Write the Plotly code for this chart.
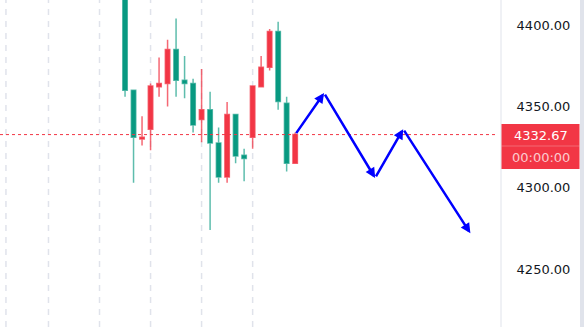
import plotly.graph_objects as go

# ---- data ----
idx = list(range(21))
opens  = [4420, 4360, 4330, 4336, 4362, 4364, 4385, 4366, 4364, 4342, 4348, 4327.5, 4306.6, 4345, 4320, 4331, 4362, 4374, 4396, 4352, 4315]
highs  = [4420, 4360, 4344, 4364, 4380, 4391, 4404, 4381, 4367, 4373, 4359, 4337, 4352.7, 4345, 4324, 4362.5, 4381, 4397.5, 4402, 4356, 4334]
lows   = [4356, 4303, 4326, 4323, 4356, 4350, 4356, 4355, 4334, 4328, 4274, 4303, 4303, 4315, 4304, 4324, 4362, 4372, 4348, 4310, 4315]
closes = [4360, 4331, 4331, 4362.5, 4364, 4385, 4366, 4364, 4338.5, 4348, 4327.5, 4306.6, 4345, 4319.5, 4318, 4362.5, 4374, 4396, 4353, 4315, 4332.67]

grid_x = [-14, -9, -3, 3, 9, 15]
arrow_x = [20, 23.4, 29.4, 32.7, 40.6]
arrow_y = [4332.67, 4358.2, 4306, 4336, 4272]
ytick_vals = [4250, 4300, 4350, 4400]
timer_text = "00:00:00"

UP = "#f23645"
DOWN = "#089981"
W, H = 584, 327
PLOT_W = 501
Y0, Y1 = 4214.4, 4415.4

def py(p):  # pixel y -> paper
    return 1 - p / H
def px(p):  # pixel x -> paper
    return p / PLOT_W

fig = go.Figure()
fig.add_trace(go.Candlestick(
    x=idx, open=opens, high=highs, low=lows, close=closes,
    increasing=dict(line=dict(color="rgba(242,54,69,0.75)", width=1.5), fillcolor=UP),
    decreasing=dict(line=dict(color="rgba(8,153,129,0.65)", width=1.5), fillcolor=DOWN),
    whiskerwidth=0, showlegend=False, hoverinfo="skip",
))

shapes = []
for gx in grid_x:
    shapes.append(dict(type="line", xref="x", yref="paper", x0=gx, x1=gx, y0=0, y1=1,
                       line=dict(color="#e0e3eb", width=1.5, dash="6px,6px"), layer="below"))
last = closes[-1]
shapes.append(dict(type="line", xref="paper", yref="y", x0=0, x1=px(497), y0=last, y1=last,
                   line=dict(color=UP, width=1, dash="dot")))
# axis separator and right strip
shapes.append(dict(type="line", xref="paper", yref="paper", x0=1, x1=1, y0=0, y1=1,
                   line=dict(color="#e0e3eb", width=1)))
shapes.append(dict(type="rect", xref="paper", yref="paper", x0=px(580), x1=px(585), y0=0, y1=1,
                   fillcolor="#e0e3eb", line=dict(width=0)))
# price label box
shapes.append(dict(type="rect", xref="paper", yref="paper", x0=px(501.5), x1=px(579.5), y0=py(169), y1=py(124),
                   fillcolor=UP, line=dict(width=0)))
shapes.append(dict(type="line", xref="paper", yref="paper", x0=px(501.5), x1=px(579.5), y0=py(146), y1=py(146),
                   line=dict(color="rgba(255,255,255,0.25)", width=1)))

annotations = []
for i in range(1, len(arrow_x)):
    annotations.append(dict(x=arrow_x[i], y=arrow_y[i], ax=arrow_x[i-1], ay=arrow_y[i-1],
                            xref="x", yref="y", axref="x", ayref="y", text="",
                            showarrow=True, arrowhead=2, arrowsize=0.8, arrowwidth=2.5,
                            arrowcolor="#0000ff", standoff=0, startstandoff=0))
annotations.append(dict(x=px(540.5), y=py(135.5), xref="paper", yref="paper", text=f"{last:.2f}",
                        xanchor="center", yanchor="middle",
                        showarrow=False, font=dict(family="DejaVu Sans", size=13, color="white")))
annotations.append(dict(x=px(540.5), y=py(157.5), xref="paper", yref="paper", text=timer_text,
                        xanchor="center", yanchor="middle",
                        showarrow=False, font=dict(family="DejaVu Sans", size=13, color="rgba(255,255,255,0.75)")))

fig.update_layout(
    width=W, height=H, margin=dict(l=0, r=W - PLOT_W, t=0, b=0),
    paper_bgcolor="white", plot_bgcolor="white",
    shapes=shapes, annotations=annotations, boxgap=0.25,
    xaxis=dict(range=[-14.7, 44.2], showgrid=False, zeroline=False, showticklabels=False,
               rangeslider=dict(visible=False), fixedrange=True),
    yaxis=dict(range=[Y0, Y1], side="right", showgrid=False, zeroline=False,
               tickvals=ytick_vals, tickformat=".2f", ticks="outside", ticklen=12, tickcolor="rgba(0,0,0,0)",
               tickfont=dict(family="DejaVu Sans", size=13, color="#131722"), showline=False),
)
fig.write_html("out.html")
